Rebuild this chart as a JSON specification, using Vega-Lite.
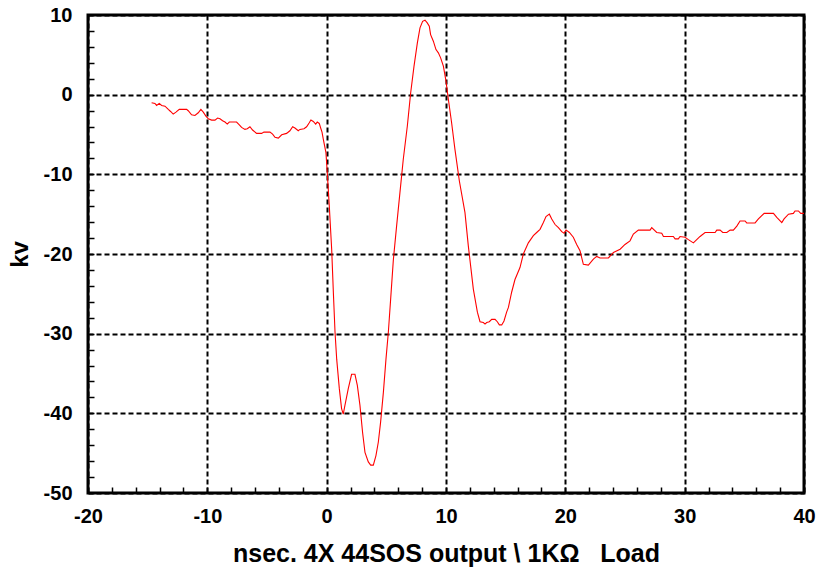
{
  "$schema": "https://vega.github.io/schema/vega-lite/v6.json",
  "autosize": {"type": "none"},
  "padding": {"left": 88, "top": 15, "right": 15, "bottom": 83},
  "width": 716,
  "height": 478,
  "background": "white",
  "config": {
    "view": {"stroke": "black", "strokeWidth": 3},
    "font": "Liberation Sans"
  },
  "data": {"values": [
    {"t": -14.67, "v": -1.02}, {"t": -14.39, "v": -1.10}, {"t": -14.25, "v": -1.35}, {"t": -14.03, "v": -1.10},
    {"t": -13.83, "v": -1.35}, {"t": -13.55, "v": -1.44}, {"t": -13.27, "v": -1.85}, {"t": -13.08, "v": -2.11},
    {"t": -12.86, "v": -2.44}, {"t": -12.63, "v": -2.19}, {"t": -12.35, "v": -1.85}, {"t": -11.74, "v": -1.85},
    {"t": -11.60, "v": -2.02}, {"t": -11.32, "v": -2.52}, {"t": -11.04, "v": -2.61}, {"t": -10.76, "v": -2.27},
    {"t": -10.54, "v": -1.85}, {"t": -10.34, "v": -2.19}, {"t": -10.12, "v": -2.69}, {"t": -9.92, "v": -3.02},
    {"t": -9.64, "v": -3.19}, {"t": -9.36, "v": -3.19}, {"t": -9.14, "v": -2.94}, {"t": -8.94, "v": -3.02},
    {"t": -8.72, "v": -3.27}, {"t": -8.52, "v": -3.44}, {"t": -8.33, "v": -3.69}, {"t": -8.16, "v": -3.44},
    {"t": -7.55, "v": -3.44}, {"t": -7.32, "v": -3.78}, {"t": -7.13, "v": -4.11}, {"t": -6.85, "v": -4.36},
    {"t": -6.65, "v": -4.28}, {"t": -6.43, "v": -4.03}, {"t": -6.21, "v": -4.44}, {"t": -5.87, "v": -4.86},
    {"t": -5.45, "v": -4.86}, {"t": -5.26, "v": -4.70}, {"t": -4.75, "v": -4.70}, {"t": -4.53, "v": -4.95},
    {"t": -4.33, "v": -5.36}, {"t": -4.05, "v": -5.45}, {"t": -3.77, "v": -5.03}, {"t": -3.36, "v": -4.86},
    {"t": -3.08, "v": -4.53}, {"t": -2.85, "v": -4.03}, {"t": -2.66, "v": -4.19}, {"t": -2.38, "v": -4.53},
    {"t": -2.24, "v": -4.36}, {"t": -1.90, "v": -4.28}, {"t": -1.68, "v": -4.03}, {"t": -1.46, "v": -3.53},
    {"t": -1.32, "v": -3.19}, {"t": -1.12, "v": -3.36}, {"t": -0.92, "v": -3.69}, {"t": -0.79, "v": -3.44},
    {"t": -0.62, "v": -3.61}, {"t": -0.51, "v": -4.15}, {"t": -0.39, "v": -4.70}, {"t": -0.28, "v": -5.61},
    {"t": -0.06, "v": -7.28}, {"t": 0.05, "v": -9.79}, {"t": 0.22, "v": -13.97}, {"t": 0.42, "v": -19.4},
    {"t": 0.56, "v": -24.8}, {"t": 0.70, "v": -29.8}, {"t": 0.84, "v": -33.2}, {"t": 1.06, "v": -36.9},
    {"t": 1.25, "v": -39.4}, {"t": 1.39, "v": -40.1}, {"t": 1.53, "v": -39.0}, {"t": 1.81, "v": -36.9},
    {"t": 2.09, "v": -35.1}, {"t": 2.37, "v": -35.1}, {"t": 2.57, "v": -36.5}, {"t": 2.79, "v": -39.0},
    {"t": 3.01, "v": -42.4}, {"t": 3.21, "v": -44.9}, {"t": 3.49, "v": -46.1}, {"t": 3.69, "v": -46.5},
    {"t": 3.91, "v": -46.5}, {"t": 4.13, "v": -45.3}, {"t": 4.33, "v": -43.6}, {"t": 4.52, "v": -41.1},
    {"t": 4.75, "v": -37.4}, {"t": 4.97, "v": -33.2}, {"t": 5.17, "v": -29.8}, {"t": 5.36, "v": -25.7},
    {"t": 5.59, "v": -20.7}, {"t": 5.86, "v": -16.5}, {"t": 6.14, "v": -12.3}, {"t": 6.42, "v": -8.1},
    {"t": 6.76, "v": -3.94}, {"t": 7.04, "v": 0.24}, {"t": 7.32, "v": 3.58}, {"t": 7.60, "v": 6.50},
    {"t": 7.82, "v": 8.38}, {"t": 8.04, "v": 9.21}, {"t": 8.24, "v": 9.34}, {"t": 8.43, "v": 9.01},
    {"t": 8.60, "v": 8.59}, {"t": 8.71, "v": 7.54}, {"t": 8.94, "v": 6.71}, {"t": 9.16, "v": 5.66},
    {"t": 9.36, "v": 5.25}, {"t": 9.55, "v": 4.62}, {"t": 9.78, "v": 3.58}, {"t": 10.0, "v": 1.70},
    {"t": 10.2, "v": -0.60}, {"t": 10.47, "v": -3.52}, {"t": 10.75, "v": -6.87}, {"t": 11.12, "v": -10.84},
    {"t": 11.59, "v": -14.8}, {"t": 11.87, "v": -18.98}, {"t": 12.29, "v": -24.4}, {"t": 12.63, "v": -27.3},
    {"t": 12.85, "v": -28.5}, {"t": 13.13, "v": -28.6}, {"t": 13.27, "v": -28.8}, {"t": 13.41, "v": -28.6},
    {"t": 13.63, "v": -28.5}, {"t": 13.83, "v": -28.2}, {"t": 14.11, "v": -28.2}, {"t": 14.30, "v": -28.5},
    {"t": 14.47, "v": -28.9}, {"t": 14.67, "v": -28.9}, {"t": 14.86, "v": -28.4}, {"t": 15.08, "v": -27.3},
    {"t": 15.23, "v": -26.7}, {"t": 15.50, "v": -24.8}, {"t": 15.78, "v": -23.2}, {"t": 16.20, "v": -21.7},
    {"t": 16.48, "v": -20.0}, {"t": 16.90, "v": -18.6}, {"t": 17.32, "v": -17.7}, {"t": 17.60, "v": -17.3},
    {"t": 17.88, "v": -16.9}, {"t": 18.16, "v": -16.05}, {"t": 18.38, "v": -15.3}, {"t": 18.66, "v": -15.0},
    {"t": 18.86, "v": -15.6}, {"t": 19.14, "v": -16.3}, {"t": 19.42, "v": -16.7}, {"t": 19.70, "v": -17.2},
    {"t": 19.89, "v": -17.4}, {"t": 20.06, "v": -17.0}, {"t": 20.34, "v": -17.3}, {"t": 20.67, "v": -17.9},
    {"t": 20.95, "v": -18.8}, {"t": 21.23, "v": -19.6}, {"t": 21.51, "v": -21.3}, {"t": 21.93, "v": -21.4},
    {"t": 22.35, "v": -20.65}, {"t": 22.63, "v": -20.3}, {"t": 22.91, "v": -20.5}, {"t": 23.61, "v": -20.5},
    {"t": 24.03, "v": -19.8}, {"t": 24.59, "v": -19.4}, {"t": 25.0, "v": -18.8}, {"t": 25.42, "v": -18.35},
    {"t": 25.70, "v": -17.5}, {"t": 26.12, "v": -17.0}, {"t": 27.10, "v": -17.0}, {"t": 27.24, "v": -16.7},
    {"t": 27.66, "v": -17.3}, {"t": 28.08, "v": -17.4}, {"t": 28.22, "v": -17.8}, {"t": 29.05, "v": -17.8},
    {"t": 29.20, "v": -18.1}, {"t": 29.47, "v": -18.1}, {"t": 29.61, "v": -17.8}, {"t": 30.03, "v": -17.9},
    {"t": 30.31, "v": -18.2}, {"t": 30.73, "v": -18.6}, {"t": 31.01, "v": -18.2}, {"t": 31.29, "v": -17.8},
    {"t": 31.71, "v": -17.3}, {"t": 32.55, "v": -17.3}, {"t": 32.69, "v": -17.0}, {"t": 32.97, "v": -17.0},
    {"t": 33.19, "v": -17.3}, {"t": 33.53, "v": -17.3}, {"t": 33.81, "v": -17.0}, {"t": 34.08, "v": -17.0},
    {"t": 34.37, "v": -16.5}, {"t": 34.64, "v": -15.85}, {"t": 35.06, "v": -15.85}, {"t": 35.20, "v": -16.1},
    {"t": 35.90, "v": -16.1}, {"t": 36.18, "v": -15.6}, {"t": 36.66, "v": -14.9}, {"t": 37.44, "v": -14.9},
    {"t": 37.72, "v": -15.4}, {"t": 38.14, "v": -16.05}, {"t": 38.33, "v": -15.6}, {"t": 38.70, "v": -15.0},
    {"t": 39.11, "v": -14.9}, {"t": 39.25, "v": -14.6}, {"t": 39.53, "v": -14.6}, {"t": 39.73, "v": -14.9},
    {"t": 40.0, "v": -14.9}
  ]},
  "mark": {"type": "line", "color": "#ff0000", "strokeWidth": 1.1, "clip": true},
  "encoding": {
    "x": {
      "field": "t", "type": "quantitative",
      "scale": {"domain": [-20, 40], "nice": false, "zero": false},
      "axis": {
        "title": "nsec. 4X 44SOS output \\ 1KΩ\u00a0\u00a0\u00a0Load",
        "titleFont": "Liberation Sans", "titleFontSize": 25, "titleFontWeight": "bold", "titleColor": "black",
        "titlePadding": 15,
        "values": [-20,-18,-16,-14,-12,-10,-8,-6,-4,-2,0,2,4,6,8,10,12,14,16,18,20,22,24,26,28,30,32,34,36,38,40],
        "labelExpr": "datum.value % 10 === 0 ? '' + datum.value : ''",
        "labelFont": "Liberation Sans", "labelFontSize": 20, "labelFontWeight": "bold", "labelColor": "black",
        "labelPadding": 19, "labelFlush": false, "labelOverlap": false,
        "domain": false,
        "ticks": true, "tickSize": -6, "tickColor": "black", "tickWidth": 1.5,
        "grid": true, "gridColor": "black", "gridWidth": 2, "gridDash": [5, 3],
        "gridOpacity": {"condition": {"test": "datum.value % 10 !== 0", "value": 0}, "value": 1}
      }
    },
    "y": {
      "field": "v", "type": "quantitative",
      "scale": {"domain": [-50, 10], "nice": false, "zero": false},
      "axis": {
        "title": "kv",
        "titleFont": "Liberation Sans", "titleFontSize": 24, "titleFontWeight": "bold", "titleColor": "black",
        "titlePadding": 11,
        "values": [-50,-48,-46,-44,-42,-40,-38,-36,-34,-32,-30,-28,-26,-24,-22,-20,-18,-16,-14,-12,-10,-8,-6,-4,-2,0,2,4,6,8,10],
        "labelExpr": "datum.value % 10 === 0 ? '' + datum.value : ''",
        "labelFont": "Liberation Sans", "labelFontSize": 20, "labelFontWeight": "bold", "labelColor": "black",
        "labelPadding": 22, "labelFlush": false, "labelOverlap": false,
        "domain": false,
        "ticks": true, "tickSize": -6, "tickColor": "black", "tickWidth": 1.5,
        "grid": true, "gridColor": "black", "gridWidth": 2, "gridDash": [5, 3],
        "gridOpacity": {"condition": {"test": "datum.value % 10 !== 0", "value": 0}, "value": 1}
      }
    }
  }
}
